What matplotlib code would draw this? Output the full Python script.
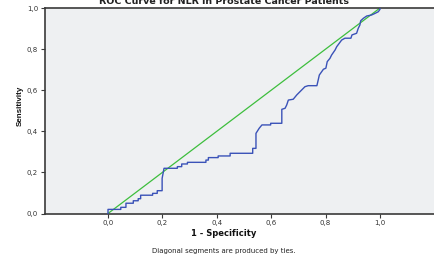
import matplotlib
matplotlib.use("Agg")
import matplotlib.pyplot as plt

# ROC curve points (1 - specificity, sensitivity)
fpr = [0.0, 0.0, 0.047, 0.047, 0.066, 0.066, 0.093, 0.093, 0.111, 0.111, 0.120, 0.120,
       0.164, 0.164, 0.181, 0.181, 0.199, 0.199, 0.206, 0.255, 0.255, 0.271, 0.271,
       0.292, 0.292, 0.360, 0.360, 0.369, 0.369, 0.405, 0.405, 0.449, 0.449, 0.532,
       0.532, 0.544, 0.544, 0.556, 0.566, 0.598, 0.598, 0.639, 0.639, 0.651, 0.657,
       0.663, 0.681, 0.694, 0.712, 0.724, 0.736, 0.768, 0.777, 0.792, 0.801, 0.806,
       0.816, 0.822, 0.835, 0.841, 0.850, 0.859, 0.871, 0.893, 0.897, 0.914, 0.920,
       0.926, 0.929, 0.939, 0.951, 0.969, 0.982, 0.994, 1.0, 1.0]
tpr = [0.0, 0.020, 0.020, 0.030, 0.030, 0.050, 0.050, 0.062, 0.062, 0.072, 0.072, 0.089,
       0.089, 0.098, 0.098, 0.111, 0.111, 0.171, 0.220, 0.220, 0.228, 0.228, 0.241,
       0.241, 0.249, 0.249, 0.260, 0.260, 0.272, 0.272, 0.280, 0.280, 0.293, 0.293,
       0.317, 0.317, 0.390, 0.415, 0.431, 0.431, 0.439, 0.439, 0.507, 0.512, 0.528,
       0.552, 0.556, 0.577, 0.601, 0.617, 0.622, 0.622, 0.674, 0.702, 0.707, 0.739,
       0.755, 0.771, 0.796, 0.812, 0.828, 0.844, 0.853, 0.853, 0.869, 0.877, 0.901,
       0.917, 0.938, 0.950, 0.961, 0.966, 0.974, 0.982, 0.994, 1.0]
ref_line = [0.0, 1.0]
tick_values = [0.0, 0.2, 0.4, 0.6, 0.8, 1.0]
tick_labels = ["0,0", "0,2", "0,4", "0,6", "0,8", "1,0"]

title = "ROC Curve for NLR in Prostate Cancer Patients"
xlabel = "1 - Specificity"
ylabel = "Sensitivity"
footnote = "Diagonal segments are produced by ties."

W, H = 435, 256
fig = plt.figure(figsize=(W / 100, H / 100), dpi=100)
fig.patch.set_facecolor("white")

x0_px, x1_px = 108, 380
left_px, top_px, bottom_px = 45, 8, 213.5
xmin = (left_px - x0_px) / (x1_px - x0_px)
xmax = 1.25
right_px = x0_px + (x1_px - x0_px) * xmax
ax = fig.add_axes([left_px / W, (H - bottom_px) / H,
                   (right_px - left_px) / W, (bottom_px - top_px) / H])
ax.set_facecolor("#EEF0F2")
ax.set_xlim(xmin, xmax)
ax.set_ylim(0, 1)

ax.plot(ref_line, ref_line, color="#3DBE3D", lw=0.9, zorder=2)
ax.plot(fpr, tpr, color="#3A52B8", lw=1.0, zorder=3)

for s in ["left", "top", "bottom"]:
    ax.spines[s].set_color("#3a3a3a")
    ax.spines[s].set_linewidth(1.2)
ax.spines["right"].set_visible(False)

ax.set_xticks(tick_values)
ax.set_xticklabels(tick_labels)
ax.set_yticks(tick_values)
ax.set_yticklabels(tick_labels)
ax.tick_params(axis="both", direction="out", length=3, width=0.8, color="#3a3a3a",
               labelsize=5, labelcolor="#333333", pad=2)
for lab in ax.get_xticklabels() + ax.get_yticklabels():
    lab.set_family("DejaVu Sans")

fig.text(224 / W, 1 - 233 / H, xlabel, ha="center", va="center", fontsize=6,
         fontweight="bold", family="DejaVu Sans", color="#111111")
fig.text(20 / W, 1 - 106 / H, ylabel, ha="center", va="center", rotation=90,
         fontsize=5.8, fontweight="bold", family="Liberation Sans", color="#111111")
fig.text(224 / W, 1 - 251 / H, footnote, ha="center", va="center", fontsize=5,
         family="DejaVu Sans", color="#222222")
fig.text(224 / W, 1 - 3.5 / H, title, ha="center", va="baseline", fontsize=6.8,
         fontweight="bold", family="DejaVu Sans", color="#222222")

fig.savefig("out.png", dpi=100, facecolor="white")
